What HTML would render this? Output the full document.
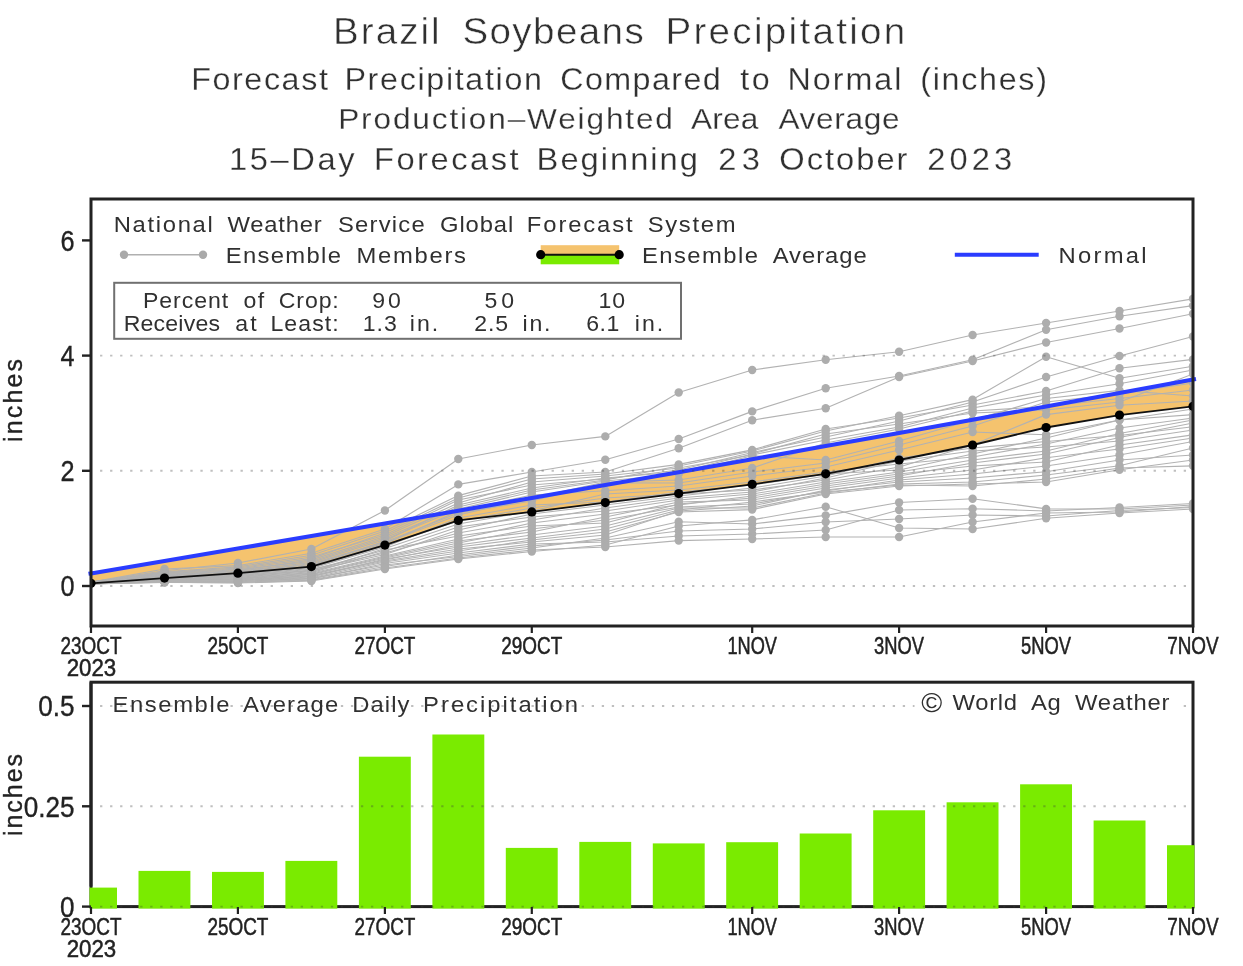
<!DOCTYPE html>
<html lang="en"><head><meta charset="utf-8"><title>Brazil Soybeans Precipitation</title>
<style>
html,body{margin:0;padding:0;background:#fff;}
body{width:1243px;height:966px;overflow:hidden;font-family:"Liberation Sans",sans-serif;}
svg{display:block;filter:blur(0.45px)}
.h{font-family:"Liberation Sans",sans-serif;fill:#303030;stroke:#fff;stroke-width:0.7px;}
.ax{font-family:"Liberation Sans",sans-serif;fill:#222;stroke:#222;stroke-width:0.35px;}
.tk{font-family:"Liberation Sans",sans-serif;fill:#222;stroke:#222;stroke-width:0.5px;}
</style></head><body>
<svg width="1243" height="966" viewBox="0 0 1243 966">
<rect width="1243" height="966" fill="#fff"/>
<defs><clipPath id="cp"><rect x="91.0" y="199.0" width="1102.0" height="427.0"/></clipPath></defs>
<text class="h" transform="translate(0,44.4) scale(1.04,1)" font-size="37.1" style="stroke-width:0.5px;"><tspan x="320.2" style="letter-spacing:1.97px">Brazil</tspan> <tspan x="444.6" style="letter-spacing:1.35px">Soybeans</tspan> <tspan x="639.8" style="letter-spacing:2.22px">Precipitation</tspan></text>
<text class="h" transform="translate(0,89.8) scale(1.04,1)" font-size="31.0" style="stroke-width:0.25px;"><tspan x="183.8" style="letter-spacing:1.56px">Forecast</tspan> <tspan x="331.2" style="letter-spacing:1.62px">Precipitation</tspan> <tspan x="538.8" style="letter-spacing:1.36px">Compared</tspan> <tspan x="711.7" style="letter-spacing:2.46px">to</tspan> <tspan x="757.3" style="letter-spacing:1.90px">Normal</tspan> <tspan x="884.9" style="letter-spacing:1.65px">(inches)</tspan></text>
<text class="h" transform="translate(0,129.2) scale(1.04,1)" font-size="30.4" style="stroke-width:0.25px;"><tspan x="325.2" style="letter-spacing:1.77px">Production–Weighted</tspan> <tspan x="664.5" style="letter-spacing:0.19px">Area</tspan> <tspan x="748.5" style="letter-spacing:0.64px">Average</tspan></text>
<text class="h" transform="translate(0,169.7) scale(1.04,1)" font-size="31.4" style="stroke-width:0.25px;"><tspan x="220.2" style="letter-spacing:2.52px">15–Day</tspan> <tspan x="359.6" style="letter-spacing:2.43px">Forecast</tspan> <tspan x="516.0" style="letter-spacing:1.93px">Beginning</tspan> <tspan x="690.6" style="letter-spacing:5.15px">23</tspan> <tspan x="749.4" style="letter-spacing:1.91px">October</tspan> <tspan x="891.7" style="letter-spacing:3.92px">2023</tspan></text>
<polygon fill="#f5c36e" points="91.0,573.4 164.5,561.0 237.9,548.5 311.4,536.0 384.9,523.4 458.3,510.7 531.8,497.9 605.3,485.1 678.7,472.2 752.2,459.2 825.7,446.1 899.1,432.9 972.6,419.7 1046.1,406.4 1119.5,393.0 1193.0,379.6 1193.0,406.3 1119.5,415.1 1046.1,427.5 972.6,445.0 899.1,460.0 825.7,473.8 752.2,484.3 678.7,493.6 605.3,502.6 531.8,511.9 458.3,520.4 384.9,545.1 311.4,566.6 237.9,573.2 164.5,578.1 91.0,583.3"/>
<g clip-path="url(#cp)">
<g fill="none" stroke="#b2b2b2" stroke-width="1.15" stroke-linejoin="round">
<polyline points="91.0,582.0 164.5,570.8 237.9,563.0 311.4,549.0 384.9,510.5 458.3,459.0 531.8,445.0 605.3,436.4 678.7,392.5 752.2,370.0 825.7,359.8 899.1,351.7 972.6,335.0 1046.1,323.0 1119.5,311.0 1193.0,298.8"/>
<polyline points="91.0,582.1 164.5,569.0 237.9,565.6 311.4,553.2 384.9,529.0 458.3,484.4 531.8,472.0 605.3,459.8 678.7,439.0 752.2,411.4 825.7,388.3 899.1,376.0 972.6,359.8 1046.1,329.8 1119.5,316.3 1193.0,305.6"/>
<polyline points="91.0,582.1 164.5,571.7 237.9,566.9 311.4,555.3 384.9,531.0 458.3,495.6 531.8,476.0 605.3,472.0 678.7,448.2 752.2,420.2 825.7,408.2 899.1,377.0 972.6,361.0 1046.1,342.5 1119.5,328.5 1193.0,313.7"/>
<polyline points="91.0,582.3 164.5,573.0 237.9,569.0 311.4,558.6 384.9,533.0 458.3,498.0 531.8,479.0 605.3,474.0 678.7,464.4 752.2,449.9 825.7,429.0 899.1,418.0 972.6,405.0 1046.1,391.0 1119.5,368.3 1193.0,359.4"/>
<polyline points="91.0,582.2 164.5,572.4 237.9,568.0 311.4,557.0 384.9,535.0 458.3,500.0 531.8,485.0 605.3,479.0 678.7,470.0 752.2,452.5 825.7,437.0 899.1,421.0 972.6,402.0 1046.1,377.0 1119.5,356.0 1193.0,336.5"/>
<polyline points="91.0,582.3 164.5,573.6 237.9,569.8 311.4,561.2 384.9,538.0 458.3,507.0 531.8,490.0 605.3,480.0 678.7,466.0 752.2,451.0 825.7,431.0 899.1,415.8 972.6,399.6 1046.1,356.7 1119.5,378.3 1193.0,366.2"/>
<polyline points="91.0,582.4 164.5,574.6 237.9,570.6 311.4,559.9 384.9,536.5 458.3,503.0 531.8,482.0 605.3,476.0 678.7,468.0 752.2,455.0 825.7,440.0 899.1,427.0 972.6,408.0 1046.1,395.0 1119.5,383.7 1193.0,370.0"/>
<polyline points="91.0,582.6 164.5,575.6 237.9,573.3 311.4,565.6 384.9,541.0 458.3,505.0 531.8,488.0 605.3,478.0 678.7,472.0 752.2,454.0 825.7,434.0 899.1,424.0 972.6,413.0 1046.1,410.0 1119.5,402.0 1193.0,374.0"/>
<polyline points="91.0,582.5 164.5,575.1 237.9,571.4 311.4,562.4 384.9,539.5 458.3,509.0 531.8,492.0 605.3,481.0 678.7,474.0 752.2,455.8 825.7,460.0 899.1,441.0 972.6,420.0 1046.1,398.5 1119.5,390.4 1193.0,396.0"/>
<polyline points="91.0,582.5 164.5,574.1 237.9,572.0 311.4,564.5 384.9,543.0 458.3,515.0 531.8,498.0 605.3,482.0 678.7,480.0 752.2,468.0 825.7,443.0 899.1,429.0 972.6,411.0 1046.1,406.5 1119.5,398.5 1193.0,390.0"/>
<polyline points="91.0,582.7 164.5,576.0 237.9,572.7 311.4,563.5 384.9,542.0 458.3,513.0 531.8,501.0 605.3,482.7 678.7,483.0 752.2,472.0 825.7,463.0 899.1,445.0 972.6,426.0 1046.1,402.0 1119.5,394.0 1193.0,383.0"/>
<polyline points="91.0,582.7 164.5,576.4 237.9,574.0 311.4,566.5 384.9,544.0 458.3,511.0 531.8,495.0 605.3,490.8 678.7,486.0 752.2,476.0 825.7,467.0 899.1,450.0 972.6,432.0 1046.1,434.8 1119.5,420.0 1193.0,409.0"/>
<polyline points="91.0,582.8 164.5,576.8 237.9,574.5 311.4,567.5 384.9,545.5 458.3,521.0 531.8,508.0 605.3,498.0 678.7,494.0 752.2,490.0 825.7,480.0 899.1,467.0 972.6,445.0 1046.1,414.6 1119.5,405.2 1193.0,401.0"/>
<polyline points="91.0,582.9 164.5,577.2 237.9,575.1 311.4,568.4 384.9,547.0 458.3,518.0 531.8,505.0 605.3,502.0 678.7,492.0 752.2,485.0 825.7,474.0 899.1,470.0 972.6,454.0 1046.1,438.0 1119.5,420.0 1193.0,414.6"/>
<polyline points="91.0,582.9 164.5,578.3 237.9,577.2 311.4,571.8 384.9,548.5 458.3,524.0 531.8,511.0 605.3,494.0 678.7,490.0 752.2,482.0 825.7,472.0 899.1,464.0 972.6,457.0 1046.1,444.0 1119.5,428.0 1193.0,418.0"/>
<polyline points="91.0,583.0 164.5,577.9 237.9,576.2 311.4,570.9 384.9,554.5 458.3,530.0 531.8,514.0 605.3,505.0 678.7,496.0 752.2,488.0 825.7,476.0 899.1,458.0 972.6,448.0 1046.1,441.5 1119.5,435.5 1193.0,426.7"/>
<polyline points="91.0,583.1 164.5,577.5 237.9,575.7 311.4,569.3 384.9,553.0 458.3,533.0 531.8,520.0 605.3,508.0 678.7,498.0 752.2,492.0 825.7,478.0 899.1,461.0 972.6,451.0 1046.1,447.0 1119.5,441.0 1193.0,430.0"/>
<polyline points="91.0,583.2 164.5,578.6 237.9,577.7 311.4,572.6 384.9,551.5 458.3,527.0 531.8,517.0 605.3,511.0 678.7,500.0 752.2,494.0 825.7,482.0 899.1,472.0 972.6,460.0 1046.1,451.0 1119.5,433.5 1193.0,420.0"/>
<polyline points="91.0,583.1 164.5,578.9 237.9,576.7 311.4,570.1 384.9,550.0 458.3,536.0 531.8,526.0 605.3,523.0 678.7,504.0 752.2,498.0 825.7,486.0 899.1,476.0 972.6,463.0 1046.1,454.0 1119.5,437.5 1193.0,423.0"/>
<polyline points="91.0,583.3 164.5,579.3 237.9,578.2 311.4,573.3 384.9,556.0 458.3,539.0 531.8,523.0 605.3,514.0 678.7,505.0 752.2,496.0 825.7,484.0 899.1,474.0 972.6,466.0 1046.1,462.0 1119.5,445.0 1193.0,434.8"/>
<polyline points="91.0,583.3 164.5,579.6 237.9,578.7 311.4,574.1 384.9,557.0 458.3,541.0 531.8,532.0 605.3,517.0 678.7,502.0 752.2,500.0 825.7,488.0 899.1,478.0 972.6,470.0 1046.1,457.7 1119.5,449.0 1193.0,438.0"/>
<polyline points="91.0,583.5 164.5,580.2 237.9,579.1 311.4,574.8 384.9,558.0 458.3,543.0 531.8,529.0 605.3,520.0 678.7,507.0 752.2,504.0 825.7,491.0 899.1,480.0 972.6,474.0 1046.1,466.0 1119.5,455.0 1193.0,441.5"/>
<polyline points="91.0,583.5 164.5,580.5 237.9,579.6 311.4,575.6 384.9,560.0 458.3,545.0 531.8,535.0 605.3,526.0 678.7,508.0 752.2,508.0 825.7,493.0 899.1,484.0 972.6,482.0 1046.1,475.0 1119.5,465.8 1193.0,448.0"/>
<polyline points="91.0,583.4 164.5,579.9 237.9,580.1 311.4,576.3 384.9,561.0 458.3,549.0 531.8,542.0 605.3,535.0 678.7,511.0 752.2,506.0 825.7,490.0 899.1,482.0 972.6,478.0 1046.1,471.7 1119.5,460.0 1193.0,455.0"/>
<polyline points="91.0,583.6 164.5,580.8 237.9,580.5 311.4,577.0 384.9,559.0 458.3,547.0 531.8,538.0 605.3,529.0 678.7,510.0 752.2,502.0 825.7,492.0 899.1,485.0 972.6,486.0 1046.1,479.0 1119.5,468.0 1193.0,465.8"/>
<polyline points="91.0,583.7 164.5,581.1 237.9,580.9 311.4,577.7 384.9,562.0 458.3,551.0 531.8,540.0 605.3,532.0 678.7,512.0 752.2,509.6 825.7,494.0 899.1,486.0 972.6,484.0 1046.1,482.0 1119.5,469.8 1193.0,460.0"/>
<polyline points="91.0,583.7 164.5,581.4 237.9,581.4 311.4,578.4 384.9,565.0 458.3,556.5 531.8,548.0 605.3,538.0 678.7,521.7 752.2,524.0 825.7,515.4 899.1,502.5 972.6,498.7 1046.1,508.9 1119.5,509.0 1193.0,505.0"/>
<polyline points="91.0,583.9 164.5,582.0 237.9,581.8 311.4,579.0 384.9,563.5 458.3,553.0 531.8,544.0 605.3,542.0 678.7,536.0 752.2,534.0 825.7,530.0 899.1,510.0 972.6,508.7 1046.1,511.0 1119.5,507.5 1193.0,503.5"/>
<polyline points="91.0,583.9 164.5,581.7 237.9,582.2 311.4,579.7 384.9,566.5 458.3,555.0 531.8,546.0 605.3,540.0 678.7,531.0 752.2,529.0 825.7,522.0 899.1,519.0 972.6,515.0 1046.1,516.0 1119.5,510.5 1193.0,507.5"/>
<polyline points="91.0,583.8 164.5,582.2 237.9,583.0 311.4,581.0 384.9,569.0 458.3,559.0 531.8,551.5 605.3,545.0 678.7,526.0 752.2,519.9 825.7,506.8 899.1,528.0 972.6,529.0 1046.1,518.3 1119.5,513.0 1193.0,509.0"/>
<polyline points="91.0,584.0 164.5,582.5 237.9,582.6 311.4,580.4 384.9,568.0 458.3,558.0 531.8,550.0 605.3,547.0 678.7,540.6 752.2,539.0 825.7,537.0 899.1,537.0 972.6,522.0 1046.1,513.0 1119.5,512.0 1193.0,506.5"/>
</g>
<g fill="#adadad">
<circle cx="164.5" cy="570.8" r="4.2"/>
<circle cx="237.9" cy="563.0" r="4.2"/>
<circle cx="311.4" cy="549.0" r="4.2"/>
<circle cx="384.9" cy="510.5" r="4.2"/>
<circle cx="458.3" cy="459.0" r="4.2"/>
<circle cx="531.8" cy="445.0" r="4.2"/>
<circle cx="605.3" cy="436.4" r="4.2"/>
<circle cx="678.7" cy="392.5" r="4.2"/>
<circle cx="752.2" cy="370.0" r="4.2"/>
<circle cx="825.7" cy="359.8" r="4.2"/>
<circle cx="899.1" cy="351.7" r="4.2"/>
<circle cx="972.6" cy="335.0" r="4.2"/>
<circle cx="1046.1" cy="323.0" r="4.2"/>
<circle cx="1119.5" cy="311.0" r="4.2"/>
<circle cx="1193.0" cy="298.8" r="4.2"/>
<circle cx="164.5" cy="569.0" r="4.2"/>
<circle cx="237.9" cy="565.6" r="4.2"/>
<circle cx="311.4" cy="553.2" r="4.2"/>
<circle cx="384.9" cy="529.0" r="4.2"/>
<circle cx="458.3" cy="484.4" r="4.2"/>
<circle cx="531.8" cy="472.0" r="4.2"/>
<circle cx="605.3" cy="459.8" r="4.2"/>
<circle cx="678.7" cy="439.0" r="4.2"/>
<circle cx="752.2" cy="411.4" r="4.2"/>
<circle cx="825.7" cy="388.3" r="4.2"/>
<circle cx="899.1" cy="376.0" r="4.2"/>
<circle cx="972.6" cy="359.8" r="4.2"/>
<circle cx="1046.1" cy="329.8" r="4.2"/>
<circle cx="1119.5" cy="316.3" r="4.2"/>
<circle cx="1193.0" cy="305.6" r="4.2"/>
<circle cx="164.5" cy="571.7" r="4.2"/>
<circle cx="237.9" cy="566.9" r="4.2"/>
<circle cx="311.4" cy="555.3" r="4.2"/>
<circle cx="384.9" cy="531.0" r="4.2"/>
<circle cx="458.3" cy="495.6" r="4.2"/>
<circle cx="531.8" cy="476.0" r="4.2"/>
<circle cx="605.3" cy="472.0" r="4.2"/>
<circle cx="678.7" cy="448.2" r="4.2"/>
<circle cx="752.2" cy="420.2" r="4.2"/>
<circle cx="825.7" cy="408.2" r="4.2"/>
<circle cx="899.1" cy="377.0" r="4.2"/>
<circle cx="972.6" cy="361.0" r="4.2"/>
<circle cx="1046.1" cy="342.5" r="4.2"/>
<circle cx="1119.5" cy="328.5" r="4.2"/>
<circle cx="1193.0" cy="313.7" r="4.2"/>
<circle cx="164.5" cy="573.0" r="4.2"/>
<circle cx="237.9" cy="569.0" r="4.2"/>
<circle cx="311.4" cy="558.6" r="4.2"/>
<circle cx="384.9" cy="533.0" r="4.2"/>
<circle cx="458.3" cy="498.0" r="4.2"/>
<circle cx="531.8" cy="479.0" r="4.2"/>
<circle cx="605.3" cy="474.0" r="4.2"/>
<circle cx="678.7" cy="464.4" r="4.2"/>
<circle cx="752.2" cy="449.9" r="4.2"/>
<circle cx="825.7" cy="429.0" r="4.2"/>
<circle cx="899.1" cy="418.0" r="4.2"/>
<circle cx="972.6" cy="405.0" r="4.2"/>
<circle cx="1046.1" cy="391.0" r="4.2"/>
<circle cx="1119.5" cy="368.3" r="4.2"/>
<circle cx="1193.0" cy="359.4" r="4.2"/>
<circle cx="164.5" cy="572.4" r="4.2"/>
<circle cx="237.9" cy="568.0" r="4.2"/>
<circle cx="311.4" cy="557.0" r="4.2"/>
<circle cx="384.9" cy="535.0" r="4.2"/>
<circle cx="458.3" cy="500.0" r="4.2"/>
<circle cx="531.8" cy="485.0" r="4.2"/>
<circle cx="605.3" cy="479.0" r="4.2"/>
<circle cx="678.7" cy="470.0" r="4.2"/>
<circle cx="752.2" cy="452.5" r="4.2"/>
<circle cx="825.7" cy="437.0" r="4.2"/>
<circle cx="899.1" cy="421.0" r="4.2"/>
<circle cx="972.6" cy="402.0" r="4.2"/>
<circle cx="1046.1" cy="377.0" r="4.2"/>
<circle cx="1119.5" cy="356.0" r="4.2"/>
<circle cx="1193.0" cy="336.5" r="4.2"/>
<circle cx="164.5" cy="573.6" r="4.2"/>
<circle cx="237.9" cy="569.8" r="4.2"/>
<circle cx="311.4" cy="561.2" r="4.2"/>
<circle cx="384.9" cy="538.0" r="4.2"/>
<circle cx="458.3" cy="507.0" r="4.2"/>
<circle cx="531.8" cy="490.0" r="4.2"/>
<circle cx="605.3" cy="480.0" r="4.2"/>
<circle cx="678.7" cy="466.0" r="4.2"/>
<circle cx="752.2" cy="451.0" r="4.2"/>
<circle cx="825.7" cy="431.0" r="4.2"/>
<circle cx="899.1" cy="415.8" r="4.2"/>
<circle cx="972.6" cy="399.6" r="4.2"/>
<circle cx="1046.1" cy="356.7" r="4.2"/>
<circle cx="1119.5" cy="378.3" r="4.2"/>
<circle cx="1193.0" cy="366.2" r="4.2"/>
<circle cx="164.5" cy="574.6" r="4.2"/>
<circle cx="237.9" cy="570.6" r="4.2"/>
<circle cx="311.4" cy="559.9" r="4.2"/>
<circle cx="384.9" cy="536.5" r="4.2"/>
<circle cx="458.3" cy="503.0" r="4.2"/>
<circle cx="531.8" cy="482.0" r="4.2"/>
<circle cx="605.3" cy="476.0" r="4.2"/>
<circle cx="678.7" cy="468.0" r="4.2"/>
<circle cx="752.2" cy="455.0" r="4.2"/>
<circle cx="825.7" cy="440.0" r="4.2"/>
<circle cx="899.1" cy="427.0" r="4.2"/>
<circle cx="972.6" cy="408.0" r="4.2"/>
<circle cx="1046.1" cy="395.0" r="4.2"/>
<circle cx="1119.5" cy="383.7" r="4.2"/>
<circle cx="1193.0" cy="370.0" r="4.2"/>
<circle cx="164.5" cy="575.6" r="4.2"/>
<circle cx="237.9" cy="573.3" r="4.2"/>
<circle cx="311.4" cy="565.6" r="4.2"/>
<circle cx="384.9" cy="541.0" r="4.2"/>
<circle cx="458.3" cy="505.0" r="4.2"/>
<circle cx="531.8" cy="488.0" r="4.2"/>
<circle cx="605.3" cy="478.0" r="4.2"/>
<circle cx="678.7" cy="472.0" r="4.2"/>
<circle cx="752.2" cy="454.0" r="4.2"/>
<circle cx="825.7" cy="434.0" r="4.2"/>
<circle cx="899.1" cy="424.0" r="4.2"/>
<circle cx="972.6" cy="413.0" r="4.2"/>
<circle cx="1046.1" cy="410.0" r="4.2"/>
<circle cx="1119.5" cy="402.0" r="4.2"/>
<circle cx="1193.0" cy="374.0" r="4.2"/>
<circle cx="164.5" cy="575.1" r="4.2"/>
<circle cx="237.9" cy="571.4" r="4.2"/>
<circle cx="311.4" cy="562.4" r="4.2"/>
<circle cx="384.9" cy="539.5" r="4.2"/>
<circle cx="458.3" cy="509.0" r="4.2"/>
<circle cx="531.8" cy="492.0" r="4.2"/>
<circle cx="605.3" cy="481.0" r="4.2"/>
<circle cx="678.7" cy="474.0" r="4.2"/>
<circle cx="752.2" cy="455.8" r="4.2"/>
<circle cx="825.7" cy="460.0" r="4.2"/>
<circle cx="899.1" cy="441.0" r="4.2"/>
<circle cx="972.6" cy="420.0" r="4.2"/>
<circle cx="1046.1" cy="398.5" r="4.2"/>
<circle cx="1119.5" cy="390.4" r="4.2"/>
<circle cx="1193.0" cy="396.0" r="4.2"/>
<circle cx="164.5" cy="574.1" r="4.2"/>
<circle cx="237.9" cy="572.0" r="4.2"/>
<circle cx="311.4" cy="564.5" r="4.2"/>
<circle cx="384.9" cy="543.0" r="4.2"/>
<circle cx="458.3" cy="515.0" r="4.2"/>
<circle cx="531.8" cy="498.0" r="4.2"/>
<circle cx="605.3" cy="482.0" r="4.2"/>
<circle cx="678.7" cy="480.0" r="4.2"/>
<circle cx="752.2" cy="468.0" r="4.2"/>
<circle cx="825.7" cy="443.0" r="4.2"/>
<circle cx="899.1" cy="429.0" r="4.2"/>
<circle cx="972.6" cy="411.0" r="4.2"/>
<circle cx="1046.1" cy="406.5" r="4.2"/>
<circle cx="1119.5" cy="398.5" r="4.2"/>
<circle cx="1193.0" cy="390.0" r="4.2"/>
<circle cx="164.5" cy="576.0" r="4.2"/>
<circle cx="237.9" cy="572.7" r="4.2"/>
<circle cx="311.4" cy="563.5" r="4.2"/>
<circle cx="384.9" cy="542.0" r="4.2"/>
<circle cx="458.3" cy="513.0" r="4.2"/>
<circle cx="531.8" cy="501.0" r="4.2"/>
<circle cx="605.3" cy="482.7" r="4.2"/>
<circle cx="678.7" cy="483.0" r="4.2"/>
<circle cx="752.2" cy="472.0" r="4.2"/>
<circle cx="825.7" cy="463.0" r="4.2"/>
<circle cx="899.1" cy="445.0" r="4.2"/>
<circle cx="972.6" cy="426.0" r="4.2"/>
<circle cx="1046.1" cy="402.0" r="4.2"/>
<circle cx="1119.5" cy="394.0" r="4.2"/>
<circle cx="1193.0" cy="383.0" r="4.2"/>
<circle cx="164.5" cy="576.4" r="4.2"/>
<circle cx="237.9" cy="574.0" r="4.2"/>
<circle cx="311.4" cy="566.5" r="4.2"/>
<circle cx="384.9" cy="544.0" r="4.2"/>
<circle cx="458.3" cy="511.0" r="4.2"/>
<circle cx="531.8" cy="495.0" r="4.2"/>
<circle cx="605.3" cy="490.8" r="4.2"/>
<circle cx="678.7" cy="486.0" r="4.2"/>
<circle cx="752.2" cy="476.0" r="4.2"/>
<circle cx="825.7" cy="467.0" r="4.2"/>
<circle cx="899.1" cy="450.0" r="4.2"/>
<circle cx="972.6" cy="432.0" r="4.2"/>
<circle cx="1046.1" cy="434.8" r="4.2"/>
<circle cx="1119.5" cy="420.0" r="4.2"/>
<circle cx="1193.0" cy="409.0" r="4.2"/>
<circle cx="164.5" cy="576.8" r="4.2"/>
<circle cx="237.9" cy="574.5" r="4.2"/>
<circle cx="311.4" cy="567.5" r="4.2"/>
<circle cx="384.9" cy="545.5" r="4.2"/>
<circle cx="458.3" cy="521.0" r="4.2"/>
<circle cx="531.8" cy="508.0" r="4.2"/>
<circle cx="605.3" cy="498.0" r="4.2"/>
<circle cx="678.7" cy="494.0" r="4.2"/>
<circle cx="752.2" cy="490.0" r="4.2"/>
<circle cx="825.7" cy="480.0" r="4.2"/>
<circle cx="899.1" cy="467.0" r="4.2"/>
<circle cx="972.6" cy="445.0" r="4.2"/>
<circle cx="1046.1" cy="414.6" r="4.2"/>
<circle cx="1119.5" cy="405.2" r="4.2"/>
<circle cx="1193.0" cy="401.0" r="4.2"/>
<circle cx="164.5" cy="577.2" r="4.2"/>
<circle cx="237.9" cy="575.1" r="4.2"/>
<circle cx="311.4" cy="568.4" r="4.2"/>
<circle cx="384.9" cy="547.0" r="4.2"/>
<circle cx="458.3" cy="518.0" r="4.2"/>
<circle cx="531.8" cy="505.0" r="4.2"/>
<circle cx="605.3" cy="502.0" r="4.2"/>
<circle cx="678.7" cy="492.0" r="4.2"/>
<circle cx="752.2" cy="485.0" r="4.2"/>
<circle cx="825.7" cy="474.0" r="4.2"/>
<circle cx="899.1" cy="470.0" r="4.2"/>
<circle cx="972.6" cy="454.0" r="4.2"/>
<circle cx="1046.1" cy="438.0" r="4.2"/>
<circle cx="1119.5" cy="420.0" r="4.2"/>
<circle cx="1193.0" cy="414.6" r="4.2"/>
<circle cx="164.5" cy="578.3" r="4.2"/>
<circle cx="237.9" cy="577.2" r="4.2"/>
<circle cx="311.4" cy="571.8" r="4.2"/>
<circle cx="384.9" cy="548.5" r="4.2"/>
<circle cx="458.3" cy="524.0" r="4.2"/>
<circle cx="531.8" cy="511.0" r="4.2"/>
<circle cx="605.3" cy="494.0" r="4.2"/>
<circle cx="678.7" cy="490.0" r="4.2"/>
<circle cx="752.2" cy="482.0" r="4.2"/>
<circle cx="825.7" cy="472.0" r="4.2"/>
<circle cx="899.1" cy="464.0" r="4.2"/>
<circle cx="972.6" cy="457.0" r="4.2"/>
<circle cx="1046.1" cy="444.0" r="4.2"/>
<circle cx="1119.5" cy="428.0" r="4.2"/>
<circle cx="1193.0" cy="418.0" r="4.2"/>
<circle cx="164.5" cy="577.9" r="4.2"/>
<circle cx="237.9" cy="576.2" r="4.2"/>
<circle cx="311.4" cy="570.9" r="4.2"/>
<circle cx="384.9" cy="554.5" r="4.2"/>
<circle cx="458.3" cy="530.0" r="4.2"/>
<circle cx="531.8" cy="514.0" r="4.2"/>
<circle cx="605.3" cy="505.0" r="4.2"/>
<circle cx="678.7" cy="496.0" r="4.2"/>
<circle cx="752.2" cy="488.0" r="4.2"/>
<circle cx="825.7" cy="476.0" r="4.2"/>
<circle cx="899.1" cy="458.0" r="4.2"/>
<circle cx="972.6" cy="448.0" r="4.2"/>
<circle cx="1046.1" cy="441.5" r="4.2"/>
<circle cx="1119.5" cy="435.5" r="4.2"/>
<circle cx="1193.0" cy="426.7" r="4.2"/>
<circle cx="164.5" cy="577.5" r="4.2"/>
<circle cx="237.9" cy="575.7" r="4.2"/>
<circle cx="311.4" cy="569.3" r="4.2"/>
<circle cx="384.9" cy="553.0" r="4.2"/>
<circle cx="458.3" cy="533.0" r="4.2"/>
<circle cx="531.8" cy="520.0" r="4.2"/>
<circle cx="605.3" cy="508.0" r="4.2"/>
<circle cx="678.7" cy="498.0" r="4.2"/>
<circle cx="752.2" cy="492.0" r="4.2"/>
<circle cx="825.7" cy="478.0" r="4.2"/>
<circle cx="899.1" cy="461.0" r="4.2"/>
<circle cx="972.6" cy="451.0" r="4.2"/>
<circle cx="1046.1" cy="447.0" r="4.2"/>
<circle cx="1119.5" cy="441.0" r="4.2"/>
<circle cx="1193.0" cy="430.0" r="4.2"/>
<circle cx="164.5" cy="578.6" r="4.2"/>
<circle cx="237.9" cy="577.7" r="4.2"/>
<circle cx="311.4" cy="572.6" r="4.2"/>
<circle cx="384.9" cy="551.5" r="4.2"/>
<circle cx="458.3" cy="527.0" r="4.2"/>
<circle cx="531.8" cy="517.0" r="4.2"/>
<circle cx="605.3" cy="511.0" r="4.2"/>
<circle cx="678.7" cy="500.0" r="4.2"/>
<circle cx="752.2" cy="494.0" r="4.2"/>
<circle cx="825.7" cy="482.0" r="4.2"/>
<circle cx="899.1" cy="472.0" r="4.2"/>
<circle cx="972.6" cy="460.0" r="4.2"/>
<circle cx="1046.1" cy="451.0" r="4.2"/>
<circle cx="1119.5" cy="433.5" r="4.2"/>
<circle cx="1193.0" cy="420.0" r="4.2"/>
<circle cx="164.5" cy="578.9" r="4.2"/>
<circle cx="237.9" cy="576.7" r="4.2"/>
<circle cx="311.4" cy="570.1" r="4.2"/>
<circle cx="384.9" cy="550.0" r="4.2"/>
<circle cx="458.3" cy="536.0" r="4.2"/>
<circle cx="531.8" cy="526.0" r="4.2"/>
<circle cx="605.3" cy="523.0" r="4.2"/>
<circle cx="678.7" cy="504.0" r="4.2"/>
<circle cx="752.2" cy="498.0" r="4.2"/>
<circle cx="825.7" cy="486.0" r="4.2"/>
<circle cx="899.1" cy="476.0" r="4.2"/>
<circle cx="972.6" cy="463.0" r="4.2"/>
<circle cx="1046.1" cy="454.0" r="4.2"/>
<circle cx="1119.5" cy="437.5" r="4.2"/>
<circle cx="1193.0" cy="423.0" r="4.2"/>
<circle cx="164.5" cy="579.3" r="4.2"/>
<circle cx="237.9" cy="578.2" r="4.2"/>
<circle cx="311.4" cy="573.3" r="4.2"/>
<circle cx="384.9" cy="556.0" r="4.2"/>
<circle cx="458.3" cy="539.0" r="4.2"/>
<circle cx="531.8" cy="523.0" r="4.2"/>
<circle cx="605.3" cy="514.0" r="4.2"/>
<circle cx="678.7" cy="505.0" r="4.2"/>
<circle cx="752.2" cy="496.0" r="4.2"/>
<circle cx="825.7" cy="484.0" r="4.2"/>
<circle cx="899.1" cy="474.0" r="4.2"/>
<circle cx="972.6" cy="466.0" r="4.2"/>
<circle cx="1046.1" cy="462.0" r="4.2"/>
<circle cx="1119.5" cy="445.0" r="4.2"/>
<circle cx="1193.0" cy="434.8" r="4.2"/>
<circle cx="164.5" cy="579.6" r="4.2"/>
<circle cx="237.9" cy="578.7" r="4.2"/>
<circle cx="311.4" cy="574.1" r="4.2"/>
<circle cx="384.9" cy="557.0" r="4.2"/>
<circle cx="458.3" cy="541.0" r="4.2"/>
<circle cx="531.8" cy="532.0" r="4.2"/>
<circle cx="605.3" cy="517.0" r="4.2"/>
<circle cx="678.7" cy="502.0" r="4.2"/>
<circle cx="752.2" cy="500.0" r="4.2"/>
<circle cx="825.7" cy="488.0" r="4.2"/>
<circle cx="899.1" cy="478.0" r="4.2"/>
<circle cx="972.6" cy="470.0" r="4.2"/>
<circle cx="1046.1" cy="457.7" r="4.2"/>
<circle cx="1119.5" cy="449.0" r="4.2"/>
<circle cx="1193.0" cy="438.0" r="4.2"/>
<circle cx="164.5" cy="580.2" r="4.2"/>
<circle cx="237.9" cy="579.1" r="4.2"/>
<circle cx="311.4" cy="574.8" r="4.2"/>
<circle cx="384.9" cy="558.0" r="4.2"/>
<circle cx="458.3" cy="543.0" r="4.2"/>
<circle cx="531.8" cy="529.0" r="4.2"/>
<circle cx="605.3" cy="520.0" r="4.2"/>
<circle cx="678.7" cy="507.0" r="4.2"/>
<circle cx="752.2" cy="504.0" r="4.2"/>
<circle cx="825.7" cy="491.0" r="4.2"/>
<circle cx="899.1" cy="480.0" r="4.2"/>
<circle cx="972.6" cy="474.0" r="4.2"/>
<circle cx="1046.1" cy="466.0" r="4.2"/>
<circle cx="1119.5" cy="455.0" r="4.2"/>
<circle cx="1193.0" cy="441.5" r="4.2"/>
<circle cx="164.5" cy="580.5" r="4.2"/>
<circle cx="237.9" cy="579.6" r="4.2"/>
<circle cx="311.4" cy="575.6" r="4.2"/>
<circle cx="384.9" cy="560.0" r="4.2"/>
<circle cx="458.3" cy="545.0" r="4.2"/>
<circle cx="531.8" cy="535.0" r="4.2"/>
<circle cx="605.3" cy="526.0" r="4.2"/>
<circle cx="678.7" cy="508.0" r="4.2"/>
<circle cx="752.2" cy="508.0" r="4.2"/>
<circle cx="825.7" cy="493.0" r="4.2"/>
<circle cx="899.1" cy="484.0" r="4.2"/>
<circle cx="972.6" cy="482.0" r="4.2"/>
<circle cx="1046.1" cy="475.0" r="4.2"/>
<circle cx="1119.5" cy="465.8" r="4.2"/>
<circle cx="1193.0" cy="448.0" r="4.2"/>
<circle cx="164.5" cy="579.9" r="4.2"/>
<circle cx="237.9" cy="580.1" r="4.2"/>
<circle cx="311.4" cy="576.3" r="4.2"/>
<circle cx="384.9" cy="561.0" r="4.2"/>
<circle cx="458.3" cy="549.0" r="4.2"/>
<circle cx="531.8" cy="542.0" r="4.2"/>
<circle cx="605.3" cy="535.0" r="4.2"/>
<circle cx="678.7" cy="511.0" r="4.2"/>
<circle cx="752.2" cy="506.0" r="4.2"/>
<circle cx="825.7" cy="490.0" r="4.2"/>
<circle cx="899.1" cy="482.0" r="4.2"/>
<circle cx="972.6" cy="478.0" r="4.2"/>
<circle cx="1046.1" cy="471.7" r="4.2"/>
<circle cx="1119.5" cy="460.0" r="4.2"/>
<circle cx="1193.0" cy="455.0" r="4.2"/>
<circle cx="164.5" cy="580.8" r="4.2"/>
<circle cx="237.9" cy="580.5" r="4.2"/>
<circle cx="311.4" cy="577.0" r="4.2"/>
<circle cx="384.9" cy="559.0" r="4.2"/>
<circle cx="458.3" cy="547.0" r="4.2"/>
<circle cx="531.8" cy="538.0" r="4.2"/>
<circle cx="605.3" cy="529.0" r="4.2"/>
<circle cx="678.7" cy="510.0" r="4.2"/>
<circle cx="752.2" cy="502.0" r="4.2"/>
<circle cx="825.7" cy="492.0" r="4.2"/>
<circle cx="899.1" cy="485.0" r="4.2"/>
<circle cx="972.6" cy="486.0" r="4.2"/>
<circle cx="1046.1" cy="479.0" r="4.2"/>
<circle cx="1119.5" cy="468.0" r="4.2"/>
<circle cx="1193.0" cy="465.8" r="4.2"/>
<circle cx="164.5" cy="581.1" r="4.2"/>
<circle cx="237.9" cy="580.9" r="4.2"/>
<circle cx="311.4" cy="577.7" r="4.2"/>
<circle cx="384.9" cy="562.0" r="4.2"/>
<circle cx="458.3" cy="551.0" r="4.2"/>
<circle cx="531.8" cy="540.0" r="4.2"/>
<circle cx="605.3" cy="532.0" r="4.2"/>
<circle cx="678.7" cy="512.0" r="4.2"/>
<circle cx="752.2" cy="509.6" r="4.2"/>
<circle cx="825.7" cy="494.0" r="4.2"/>
<circle cx="899.1" cy="486.0" r="4.2"/>
<circle cx="972.6" cy="484.0" r="4.2"/>
<circle cx="1046.1" cy="482.0" r="4.2"/>
<circle cx="1119.5" cy="469.8" r="4.2"/>
<circle cx="1193.0" cy="460.0" r="4.2"/>
<circle cx="164.5" cy="581.4" r="4.2"/>
<circle cx="237.9" cy="581.4" r="4.2"/>
<circle cx="311.4" cy="578.4" r="4.2"/>
<circle cx="384.9" cy="565.0" r="4.2"/>
<circle cx="458.3" cy="556.5" r="4.2"/>
<circle cx="531.8" cy="548.0" r="4.2"/>
<circle cx="605.3" cy="538.0" r="4.2"/>
<circle cx="678.7" cy="521.7" r="4.2"/>
<circle cx="752.2" cy="524.0" r="4.2"/>
<circle cx="825.7" cy="515.4" r="4.2"/>
<circle cx="899.1" cy="502.5" r="4.2"/>
<circle cx="972.6" cy="498.7" r="4.2"/>
<circle cx="1046.1" cy="508.9" r="4.2"/>
<circle cx="1119.5" cy="509.0" r="4.2"/>
<circle cx="1193.0" cy="505.0" r="4.2"/>
<circle cx="164.5" cy="582.0" r="4.2"/>
<circle cx="237.9" cy="581.8" r="4.2"/>
<circle cx="311.4" cy="579.0" r="4.2"/>
<circle cx="384.9" cy="563.5" r="4.2"/>
<circle cx="458.3" cy="553.0" r="4.2"/>
<circle cx="531.8" cy="544.0" r="4.2"/>
<circle cx="605.3" cy="542.0" r="4.2"/>
<circle cx="678.7" cy="536.0" r="4.2"/>
<circle cx="752.2" cy="534.0" r="4.2"/>
<circle cx="825.7" cy="530.0" r="4.2"/>
<circle cx="899.1" cy="510.0" r="4.2"/>
<circle cx="972.6" cy="508.7" r="4.2"/>
<circle cx="1046.1" cy="511.0" r="4.2"/>
<circle cx="1119.5" cy="507.5" r="4.2"/>
<circle cx="1193.0" cy="503.5" r="4.2"/>
<circle cx="164.5" cy="581.7" r="4.2"/>
<circle cx="237.9" cy="582.2" r="4.2"/>
<circle cx="311.4" cy="579.7" r="4.2"/>
<circle cx="384.9" cy="566.5" r="4.2"/>
<circle cx="458.3" cy="555.0" r="4.2"/>
<circle cx="531.8" cy="546.0" r="4.2"/>
<circle cx="605.3" cy="540.0" r="4.2"/>
<circle cx="678.7" cy="531.0" r="4.2"/>
<circle cx="752.2" cy="529.0" r="4.2"/>
<circle cx="825.7" cy="522.0" r="4.2"/>
<circle cx="899.1" cy="519.0" r="4.2"/>
<circle cx="972.6" cy="515.0" r="4.2"/>
<circle cx="1046.1" cy="516.0" r="4.2"/>
<circle cx="1119.5" cy="510.5" r="4.2"/>
<circle cx="1193.0" cy="507.5" r="4.2"/>
<circle cx="164.5" cy="582.2" r="4.2"/>
<circle cx="237.9" cy="583.0" r="4.2"/>
<circle cx="311.4" cy="581.0" r="4.2"/>
<circle cx="384.9" cy="569.0" r="4.2"/>
<circle cx="458.3" cy="559.0" r="4.2"/>
<circle cx="531.8" cy="551.5" r="4.2"/>
<circle cx="605.3" cy="545.0" r="4.2"/>
<circle cx="678.7" cy="526.0" r="4.2"/>
<circle cx="752.2" cy="519.9" r="4.2"/>
<circle cx="825.7" cy="506.8" r="4.2"/>
<circle cx="899.1" cy="528.0" r="4.2"/>
<circle cx="972.6" cy="529.0" r="4.2"/>
<circle cx="1046.1" cy="518.3" r="4.2"/>
<circle cx="1119.5" cy="513.0" r="4.2"/>
<circle cx="1193.0" cy="509.0" r="4.2"/>
<circle cx="164.5" cy="582.5" r="4.2"/>
<circle cx="237.9" cy="582.6" r="4.2"/>
<circle cx="311.4" cy="580.4" r="4.2"/>
<circle cx="384.9" cy="568.0" r="4.2"/>
<circle cx="458.3" cy="558.0" r="4.2"/>
<circle cx="531.8" cy="550.0" r="4.2"/>
<circle cx="605.3" cy="547.0" r="4.2"/>
<circle cx="678.7" cy="540.6" r="4.2"/>
<circle cx="752.2" cy="539.0" r="4.2"/>
<circle cx="825.7" cy="537.0" r="4.2"/>
<circle cx="899.1" cy="537.0" r="4.2"/>
<circle cx="972.6" cy="522.0" r="4.2"/>
<circle cx="1046.1" cy="513.0" r="4.2"/>
<circle cx="1119.5" cy="512.0" r="4.2"/>
<circle cx="1193.0" cy="506.5" r="4.2"/>
</g>
</g>
<polyline fill="none" stroke="#2a3cff" stroke-width="4.1" stroke-linecap="butt" points="88.5,573.8 91.0,573.4 164.5,561.0 237.9,548.5 311.4,536.0 384.9,523.4 458.3,510.7 531.8,497.9 605.3,485.1 678.7,472.2 752.2,459.2 825.7,446.1 899.1,432.9 972.6,419.7 1046.1,406.4 1119.5,393.0 1193.0,379.6 1196.0,379.1"/>
<g clip-path="url(#cp)">
<polyline fill="none" stroke="#111" stroke-width="1.8" points="91.0,583.3 164.5,578.1 237.9,573.2 311.4,566.6 384.9,545.1 458.3,520.4 531.8,511.9 605.3,502.6 678.7,493.6 752.2,484.3 825.7,473.8 899.1,460.0 972.6,445.0 1046.1,427.5 1119.5,415.1 1193.0,406.3"/>
<circle cx="91.0" cy="583.3" r="4.6" fill="#000"/>
<circle cx="164.5" cy="578.1" r="4.6" fill="#000"/>
<circle cx="237.9" cy="573.2" r="4.6" fill="#000"/>
<circle cx="311.4" cy="566.6" r="4.6" fill="#000"/>
<circle cx="384.9" cy="545.1" r="4.6" fill="#000"/>
<circle cx="458.3" cy="520.4" r="4.6" fill="#000"/>
<circle cx="531.8" cy="511.9" r="4.6" fill="#000"/>
<circle cx="605.3" cy="502.6" r="4.6" fill="#000"/>
<circle cx="678.7" cy="493.6" r="4.6" fill="#000"/>
<circle cx="752.2" cy="484.3" r="4.6" fill="#000"/>
<circle cx="825.7" cy="473.8" r="4.6" fill="#000"/>
<circle cx="899.1" cy="460.0" r="4.6" fill="#000"/>
<circle cx="972.6" cy="445.0" r="4.6" fill="#000"/>
<circle cx="1046.1" cy="427.5" r="4.6" fill="#000"/>
<circle cx="1119.5" cy="415.1" r="4.6" fill="#000"/>
<circle cx="1193.0" cy="406.3" r="4.6" fill="#000"/>
</g>
<line x1="100.05" y1="586.0" x2="1190" y2="586.0" stroke="#3c3c3c" stroke-opacity="0.33" stroke-width="1.9" stroke-dasharray="2.3 7.734"/>
<line x1="100.05" y1="470.8" x2="1190" y2="470.8" stroke="#3c3c3c" stroke-opacity="0.33" stroke-width="1.9" stroke-dasharray="2.3 7.734"/>
<line x1="100.05" y1="355.6" x2="1190" y2="355.6" stroke="#3c3c3c" stroke-opacity="0.33" stroke-width="1.9" stroke-dasharray="2.3 7.734"/>
<text class="h" transform="translate(0,231.5) scale(1.04,1)" font-size="22.9" style="stroke-width:0px;"><tspan x="109.3" style="letter-spacing:1.62px">National</tspan> <tspan x="218.7" style="letter-spacing:0.76px">Weather</tspan> <tspan x="325.0" style="letter-spacing:1.16px">Service</tspan> <tspan x="423.1" style="letter-spacing:0.84px">Global</tspan> <tspan x="506.6" style="letter-spacing:1.80px">Forecast</tspan> <tspan x="622.8" style="letter-spacing:1.62px">System</tspan></text>
<line x1="124" y1="254.7" x2="203" y2="254.7" stroke="#b0b0b0" stroke-width="1.6"/>
<circle cx="124" cy="254.7" r="4.2" fill="#a9a9a9"/><circle cx="203" cy="254.7" r="4.2" fill="#a9a9a9"/>
<text class="h" transform="translate(0,262.9) scale(1.04,1)" font-size="22.9" style="stroke-width:0px;"><tspan x="217.0" style="letter-spacing:1.29px">Ensemble</tspan> <tspan x="342.8" style="letter-spacing:1.63px">Members</tspan></text>
<rect x="540.7" y="245.2" width="78.5" height="9.5" fill="#f5c36e"/>
<rect x="540.7" y="254.7" width="78.5" height="9.6" fill="#7aeb00"/>
<line x1="540.7" y1="254.7" x2="619.2" y2="254.7" stroke="#111" stroke-width="2"/>
<circle cx="540.7" cy="254.7" r="4.6" fill="#000"/><circle cx="619.2" cy="254.7" r="4.6" fill="#000"/>
<text class="h" transform="translate(0,262.9) scale(1.04,1)" font-size="22.9" style="stroke-width:0px;"><tspan x="617.2" style="letter-spacing:1.40px">Ensemble</tspan> <tspan x="743.0" style="letter-spacing:0.92px">Average</tspan></text>
<line x1="954.8" y1="254.7" x2="1038.7" y2="254.7" stroke="#2a3cff" stroke-width="4.1"/>
<text class="h" transform="translate(0,262.9) scale(1.04,1)" font-size="22.9" style="stroke-width:0px;"><tspan x="1017.9" style="letter-spacing:2.15px">Normal</tspan></text>
<rect x="114.2" y="282.8" width="566.8" height="56" fill="#fff" stroke="#707070" stroke-width="2"/>
<text class="h" transform="translate(0,308.0) scale(1.04,1)" font-size="22.2" style="stroke-width:0px;"><tspan x="137.4" style="letter-spacing:0.93px">Percent</tspan> <tspan x="234.2" style="letter-spacing:1.42px">of</tspan> <tspan x="268.1" style="letter-spacing:0.85px">Crop:</tspan> <tspan x="358.0" style="letter-spacing:2.79px">90</tspan> <tspan x="465.9" style="letter-spacing:3.79px">50</tspan> <tspan x="575.4" style="letter-spacing:1.04px">10</tspan></text>
<text class="h" transform="translate(0,330.5) scale(1.04,1)" font-size="22.2" style="stroke-width:0px;"><tspan x="118.9" style="letter-spacing:0.20px">Receives</tspan> <tspan x="226.1" style="letter-spacing:2.30px">at</tspan> <tspan x="260.0" style="letter-spacing:1.06px">Least:</tspan> <tspan x="348.8" style="letter-spacing:0.95px">1.3</tspan> <tspan x="394.1" style="letter-spacing:1.86px">in.</tspan> <tspan x="456.0" style="letter-spacing:0.88px">2.5</tspan> <tspan x="502.5" style="letter-spacing:1.67px">in.</tspan> <tspan x="563.7" style="letter-spacing:0.53px">6.1</tspan> <tspan x="610.4" style="letter-spacing:1.96px">in.</tspan></text>
<rect x="91.0" y="199.0" width="1102.0" height="427.0" fill="none" stroke="#222" stroke-width="3"/>
<line x1="82" y1="586.0" x2="91.0" y2="586.0" stroke="#222" stroke-width="2.4"/>
<text class="ax" transform="translate(74.6,596.2) scale(0.87,1)" font-size="29" text-anchor="end">0</text>
<line x1="82" y1="470.8" x2="91.0" y2="470.8" stroke="#222" stroke-width="2.4"/>
<text class="ax" transform="translate(74.6,481.0) scale(0.87,1)" font-size="29" text-anchor="end">2</text>
<line x1="82" y1="355.6" x2="91.0" y2="355.6" stroke="#222" stroke-width="2.4"/>
<text class="ax" transform="translate(74.6,365.8) scale(0.87,1)" font-size="29" text-anchor="end">4</text>
<line x1="82" y1="240.4" x2="91.0" y2="240.4" stroke="#222" stroke-width="2.4"/>
<text class="ax" transform="translate(74.6,250.6) scale(0.87,1)" font-size="29" text-anchor="end">6</text>
<line x1="91.0" y1="626" x2="91.0" y2="633" stroke="#222" stroke-width="2.2"/>
<text class="tk" x="60.5" y="653.8" font-size="23.4" textLength="61" lengthAdjust="spacingAndGlyphs">23OCT</text>
<line x1="237.9" y1="626" x2="237.9" y2="633" stroke="#222" stroke-width="2.2"/>
<text class="tk" x="207.4" y="653.8" font-size="23.4" textLength="61" lengthAdjust="spacingAndGlyphs">25OCT</text>
<line x1="384.9" y1="626" x2="384.9" y2="633" stroke="#222" stroke-width="2.2"/>
<text class="tk" x="354.4" y="653.8" font-size="23.4" textLength="61" lengthAdjust="spacingAndGlyphs">27OCT</text>
<line x1="531.8" y1="626" x2="531.8" y2="633" stroke="#222" stroke-width="2.2"/>
<text class="tk" x="501.3" y="653.8" font-size="23.4" textLength="61" lengthAdjust="spacingAndGlyphs">29OCT</text>
<line x1="752.2" y1="626" x2="752.2" y2="633" stroke="#222" stroke-width="2.2"/>
<text class="tk" x="727.5" y="653.8" font-size="23.4" textLength="49.5" lengthAdjust="spacingAndGlyphs">1NOV</text>
<line x1="899.1" y1="626" x2="899.1" y2="633" stroke="#222" stroke-width="2.2"/>
<text class="tk" x="874.1" y="653.8" font-size="23.4" textLength="50" lengthAdjust="spacingAndGlyphs">3NOV</text>
<line x1="1046.1" y1="626" x2="1046.1" y2="633" stroke="#222" stroke-width="2.2"/>
<text class="tk" x="1021.1" y="653.8" font-size="23.4" textLength="50" lengthAdjust="spacingAndGlyphs">5NOV</text>
<line x1="1193.0" y1="626" x2="1193.0" y2="633" stroke="#222" stroke-width="2.2"/>
<text class="tk" x="1167.2" y="653.8" font-size="23.4" textLength="51.5" lengthAdjust="spacingAndGlyphs">7NOV</text>
<text class="tk" x="66.7" y="676.0999999999999" font-size="23.4" textLength="49.5" lengthAdjust="spacingAndGlyphs">2023</text>
<text class="ax" transform="translate(21.5,400.5) rotate(-90)" font-size="25" text-anchor="middle" textLength="83" lengthAdjust="spacing">inches</text>
<rect x="91.0" y="682.2" width="1102.0" height="224.39999999999998" fill="none" stroke="#222" stroke-width="3"/>
<rect x="89.5" y="887.6" width="27.5" height="21.0" fill="#7aeb00"/>
<rect x="138.5" y="870.9" width="51.9" height="37.7" fill="#7aeb00"/>
<rect x="212.0" y="871.9" width="51.9" height="36.7" fill="#7aeb00"/>
<rect x="285.4" y="860.9" width="51.9" height="47.7" fill="#7aeb00"/>
<rect x="358.9" y="756.7" width="51.9" height="151.9" fill="#7aeb00"/>
<rect x="432.4" y="734.5" width="51.9" height="174.1" fill="#7aeb00"/>
<rect x="505.8" y="847.9" width="51.9" height="60.7" fill="#7aeb00"/>
<rect x="579.3" y="841.9" width="51.9" height="66.7" fill="#7aeb00"/>
<rect x="652.8" y="843.4" width="51.9" height="65.2" fill="#7aeb00"/>
<rect x="726.2" y="842.2" width="51.9" height="66.4" fill="#7aeb00"/>
<rect x="799.7" y="833.5" width="51.9" height="75.1" fill="#7aeb00"/>
<rect x="873.2" y="810.3" width="51.9" height="98.3" fill="#7aeb00"/>
<rect x="946.6" y="802.3" width="51.9" height="106.3" fill="#7aeb00"/>
<rect x="1020.1" y="784.3" width="51.9" height="124.3" fill="#7aeb00"/>
<rect x="1093.6" y="820.5" width="51.9" height="88.1" fill="#7aeb00"/>
<rect x="1167.0" y="845.2" width="27.5" height="63.4" fill="#7aeb00"/>
<line x1="91.0" y1="682.2" x2="91.0" y2="886.6" stroke="#222" stroke-width="3"/>
<line x1="100.05" y1="906.6" x2="1190" y2="906.6" stroke="#3c3c3c" stroke-opacity="0.33" stroke-width="1.9" stroke-dasharray="2.3 7.734"/>
<line x1="100.05" y1="806.3" x2="1190" y2="806.3" stroke="#3c3c3c" stroke-opacity="0.33" stroke-width="1.9" stroke-dasharray="2.3 7.734"/>
<line x1="100.05" y1="706.0" x2="1190" y2="706.0" stroke="#3c3c3c" stroke-opacity="0.33" stroke-width="1.9" stroke-dasharray="2.3 7.734"/>
<text class="h" transform="translate(0,711.6) scale(1.04,1)" font-size="22.9" style="stroke-width:0px;"><tspan x="108.1" style="letter-spacing:1.55px">Ensemble</tspan> <tspan x="233.7" style="letter-spacing:1.11px">Average</tspan> <tspan x="338.6" style="letter-spacing:1.07px">Daily</tspan> <tspan x="406.8" style="letter-spacing:1.92px">Precipitation</tspan></text>
<rect x="914.5" y="690" width="263" height="30" fill="#fff"/>
<text class="h" x="921.2" y="711.6" font-size="28.5" style="stroke-width:0" textLength="21" lengthAdjust="spacingAndGlyphs">©</text>
<text class="h" transform="translate(0,709.5) scale(1.04,1)" font-size="22.9" style="stroke-width:0px;"><tspan x="915.9" style="letter-spacing:0.64px">World</tspan> <tspan x="991.3" style="letter-spacing:0.72px">Ag</tspan> <tspan x="1033.6" style="letter-spacing:0.80px">Weather</tspan></text>
<line x1="82" y1="906.6" x2="91.0" y2="906.6" stroke="#222" stroke-width="2.4"/>
<text class="ax" transform="translate(74.6,916.8) scale(0.9,1)" font-size="29" text-anchor="end">0</text>
<line x1="82" y1="806.3" x2="91.0" y2="806.3" stroke="#222" stroke-width="2.4"/>
<text class="ax" transform="translate(74.6,816.5) scale(0.9,1)" font-size="29" text-anchor="end">0.25</text>
<line x1="82" y1="706.0" x2="91.0" y2="706.0" stroke="#222" stroke-width="2.4"/>
<text class="ax" transform="translate(74.6,716.2) scale(0.9,1)" font-size="29" text-anchor="end">0.5</text>
<line x1="91.0" y1="907" x2="91.0" y2="914" stroke="#222" stroke-width="2.2"/>
<text class="tk" x="60.5" y="934.6" font-size="23.4" textLength="61" lengthAdjust="spacingAndGlyphs">23OCT</text>
<line x1="237.9" y1="907" x2="237.9" y2="914" stroke="#222" stroke-width="2.2"/>
<text class="tk" x="207.4" y="934.6" font-size="23.4" textLength="61" lengthAdjust="spacingAndGlyphs">25OCT</text>
<line x1="384.9" y1="907" x2="384.9" y2="914" stroke="#222" stroke-width="2.2"/>
<text class="tk" x="354.4" y="934.6" font-size="23.4" textLength="61" lengthAdjust="spacingAndGlyphs">27OCT</text>
<line x1="531.8" y1="907" x2="531.8" y2="914" stroke="#222" stroke-width="2.2"/>
<text class="tk" x="501.3" y="934.6" font-size="23.4" textLength="61" lengthAdjust="spacingAndGlyphs">29OCT</text>
<line x1="752.2" y1="907" x2="752.2" y2="914" stroke="#222" stroke-width="2.2"/>
<text class="tk" x="727.5" y="934.6" font-size="23.4" textLength="49.5" lengthAdjust="spacingAndGlyphs">1NOV</text>
<line x1="899.1" y1="907" x2="899.1" y2="914" stroke="#222" stroke-width="2.2"/>
<text class="tk" x="874.1" y="934.6" font-size="23.4" textLength="50" lengthAdjust="spacingAndGlyphs">3NOV</text>
<line x1="1046.1" y1="907" x2="1046.1" y2="914" stroke="#222" stroke-width="2.2"/>
<text class="tk" x="1021.1" y="934.6" font-size="23.4" textLength="50" lengthAdjust="spacingAndGlyphs">5NOV</text>
<line x1="1193.0" y1="907" x2="1193.0" y2="914" stroke="#222" stroke-width="2.2"/>
<text class="tk" x="1167.2" y="934.6" font-size="23.4" textLength="51.5" lengthAdjust="spacingAndGlyphs">7NOV</text>
<text class="tk" x="66.7" y="956.9" font-size="23.4" textLength="49.5" lengthAdjust="spacingAndGlyphs">2023</text>
<text class="ax" transform="translate(22,795) rotate(-90)" font-size="25" text-anchor="middle" textLength="82" lengthAdjust="spacing">inches</text>
</svg></body></html>
